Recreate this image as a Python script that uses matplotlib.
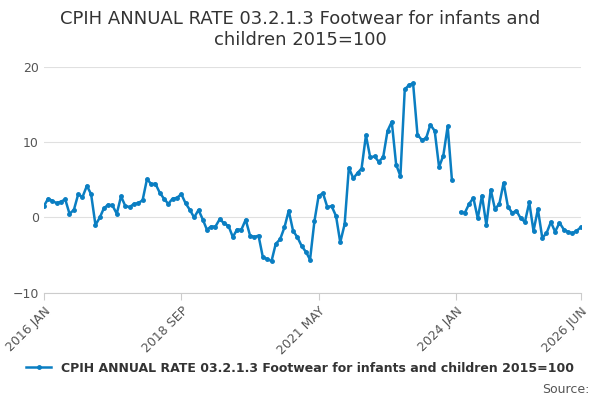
import matplotlib
matplotlib.use("Agg")
import matplotlib.pyplot as plt
import numpy as np
import pandas as pd

values = [1.5,2.5,2.2,1.9,2.1,2.4,0.5,1.0,3.1,2.7,4.2,3.1,
 -1.0,0.0,1.2,1.7,1.6,0.5,2.8,1.5,1.4,1.8,1.9,2.3,
 5.1,4.4,4.5,3.3,2.5,1.8,2.5,2.6,3.1,1.9,1.0,0.0,
 1.0,-0.3,-1.6,-1.2,-1.2,-0.2,-0.8,-1.1,-2.6,-1.6,-1.6,-0.3,
 -2.4,-2.6,-2.4,-5.3,-5.5,-5.8,-3.5,-2.9,-1.3,0.9,-1.8,-2.6,
 -3.8,-4.6,-5.6,-0.5,2.9,3.2,1.4,1.5,0.2,-3.3,-0.9,6.6,
 5.2,5.9,6.5,10.9,8.0,8.1,7.4,8.0,11.5,12.7,7.0,5.5,
 17.0,17.6,17.8,11.0,10.3,10.5,12.3,11.5,6.7,8.2,12.1,5.0,
 np.nan,0.7,0.6,1.8,2.6,-0.1,2.9,-1.0,3.7,1.1,1.8,4.6,
 1.4,0.6,0.9,-0.1,-0.6,2.0,-1.8,1.1,-2.7,-2.1,-0.6,-1.9,
 -0.7,-1.6,-1.9,-2.1,-1.8,-1.3]
dates = pd.date_range("2016-01-01", periods=len(values), freq="MS")
tick_dates = pd.to_datetime(["2016-01-01","2018-09-01","2021-05-01","2024-01-01","2026-06-01"])
tick_labels = ["2016 JAN","2018 SEP","2021 MAY","2024 JAN","2026 JUN"]
label = "CPIH ANNUAL RATE 03.2.1.3 Footwear for infants and children 2015=100"

fig = plt.figure(figsize=(6,4), dpi=100)
ax = fig.add_axes([0.073, 0.268, 0.895, 0.565])
c = "#0a7ec2"
ax.plot(dates, values, color=c, lw=1.8, marker="o", ms=2.5, label=label)
ax.set_ylim(-10, 20)
ax.set_yticks([-10,0,10,20])
ax.set_xlim(dates[0], dates[-1])
ax.set_xticks(tick_dates)
ax.set_xticklabels(tick_labels, rotation=45, ha="right", rotation_mode="anchor", color="#555", fontsize=9)
ax.tick_params(axis="y", length=0, labelcolor="#555", labelsize=9)
ax.tick_params(axis="x", length=5, color="#ccc")
ax.grid(axis="y", color="#e0e0e0", lw=0.8)
for s in ["top","right","left"]:
    ax.spines[s].set_visible(False)
ax.spines["bottom"].set_color("#ccc")
fig.suptitle("CPIH ANNUAL RATE 03.2.1.3 Footwear for infants and children 2015=100", fontsize=13, color="#333", y=0.975, wrap=True)
fig.texts[0].set_text("CPIH ANNUAL RATE 03.2.1.3 Footwear for infants and\nchildren 2015=100")
fig.legend(loc="lower center", bbox_to_anchor=(0.5, 0.035), frameon=False, fontsize=9, handlelength=2)
for t in fig.legends[0].get_texts():
    t.set_fontweight("bold"); t.set_color("#333")
fig.text(0.982, 0.01, "Source:", ha="right", va="bottom", fontsize=9, color="#555")
fig.savefig("out.png")
